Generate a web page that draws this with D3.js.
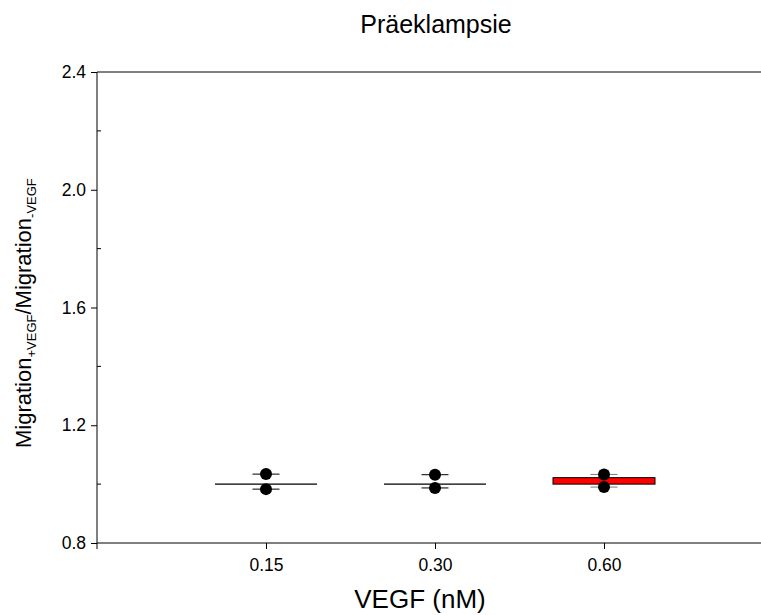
<!DOCTYPE html>
<html>
<head>
<meta charset="utf-8">
<script src="https://cdn.jsdelivr.net/npm/d3@7"></script>
<style>
body { margin: 0; background: #fff; }
text { font-family: "Liberation Sans", Arial, sans-serif; }
</style>
</head>
<body>
<svg id="chart" width="761" height="615"></svg>
<script>
// data
const categories = ["0.15", "0.30", "0.60"];
const points = [[1.034, 0.983], [1.032, 0.987], [1.033, 0.99]];
const q1 = [1.0, 1.0, 1.0];
const q3 = [1.0, 1.0, 1.022];
const medians = [1.0, 1.0, 1.0];
const yTicks = [0.8, 1.2, 1.6, 2.0, 2.4];
const yMinor = [1.0, 1.4, 1.8, 2.2];

const LEFT = 97;
const TOP = 72;
const BOTTOM = 543;
const SVG_WIDTH = 761;

const svg = d3.select("#chart");

const xScale = d3.scalePoint()
	.domain(categories)
	.range([LEFT, LEFT + 169 * 4])
	.padding(1);
const yScale = d3.scaleLinear()
	.domain([0.8, 2.4])
	.range([BOTTOM, TOP]);

const boxW = 102;
const capW = 27;

// top frame line
svg.append("line")
	.attr("x1", LEFT).attr("x2", SVG_WIDTH).attr("y1", TOP).attr("y2", TOP)
	.attr("stroke", "#000").attr("stroke-width", 1);

// y axis
const yAxis = d3.axisLeft(yScale).tickValues(yTicks).tickSize(6).tickSizeOuter(0)
	.tickFormat(d3.format(".1f"));
const yg = svg.append("g").attr("transform", "translate(" + LEFT + ",0)").call(yAxis);
yg.select(".domain").remove();
yg.selectAll("text").style("font-size", "17.5px").attr("x", -11).attr("fill", "#000");
svg.append("line")
	.attr("x1", LEFT).attr("x2", LEFT).attr("y1", TOP).attr("y2", BOTTOM + 6)
	.attr("stroke", "#000").attr("stroke-width", 1);
svg.selectAll(".minor")
	.data(yMinor)
	.enter()
	.append("line")
	.attr("class", "minor")
	.attr("x1", LEFT).attr("x2", LEFT + 4)
	.attr("y1", function(d) {return yScale(d);})
	.attr("y2", function(d) {return yScale(d);})
	.attr("stroke", "#000").attr("stroke-width", 1);

// x axis
const xAxis = d3.axisBottom(xScale).tickSize(6).tickSizeOuter(0);
const xg = svg.append("g").attr("transform", "translate(0," + BOTTOM + ")").call(xAxis);
xg.select(".domain").remove();
xg.selectAll("text").style("font-size", "17.5px").attr("y", 16).attr("fill", "#000");
svg.append("line")
	.attr("x1", LEFT).attr("x2", SVG_WIDTH).attr("y1", BOTTOM).attr("y2", BOTTOM)
	.attr("stroke", "#000").attr("stroke-width", 1);

// boxes (red when there is a spread)
categories.forEach(function(c, i) {
	const cx = xScale(c);
	if (q3[i] > q1[i]) {
		svg.append("rect")
			.attr("x", cx - boxW / 2).attr("width", boxW)
			.attr("y", yScale(q3[i])).attr("height", yScale(q1[i]) - yScale(q3[i]))
			.attr("fill", "#ff0000").attr("stroke", "#000").attr("stroke-width", 1);
	}
	else {
		svg.append("line")
			.attr("x1", cx - boxW / 2).attr("x2", cx + boxW / 2)
			.attr("y1", yScale(medians[i])).attr("y2", yScale(medians[i]))
			.attr("stroke", "#000").attr("stroke-width", 1.2);
	}
	// caps
	points[i].forEach(function(v) {
		svg.append("line")
			.attr("x1", cx - capW / 2).attr("x2", cx + capW / 2)
			.attr("y1", yScale(v)).attr("y2", yScale(v))
			.attr("stroke", i == 2 ? "#777" : "#000").attr("stroke-width", 1);
	});
	// points
	svg.selectAll(".pt" + i)
		.data(points[i])
		.enter()
		.append("circle")
		.attr("cx", cx)
		.attr("cy", function(d) {return yScale(d);})
		.attr("r", 6)
		.attr("fill", "#000");
});

// title
svg.append("text")
	.attr("x", 436).attr("y", 33)
	.attr("text-anchor", "middle")
	.style("font-size", "25px")
	.text("Präeklampsie");

// x title
svg.append("text")
	.attr("x", 420).attr("y", 608)
	.attr("text-anchor", "middle")
	.style("font-size", "26px")
	.text("VEGF (nM)");

// y title
const yt = svg.append("text")
	.attr("transform", "translate(31,448) rotate(-90)")
	.attr("text-anchor", "start")
	.style("font-size", "22px");
yt.append("tspan").text("Migration");
yt.append("tspan").attr("dy", 5).style("font-size", "13px").text("+VEGF");
yt.append("tspan").attr("dy", -5).text("/Migration");
yt.append("tspan").attr("dy", 5).style("font-size", "13px").text("-VEGF");
</script>
</body>
</html>
